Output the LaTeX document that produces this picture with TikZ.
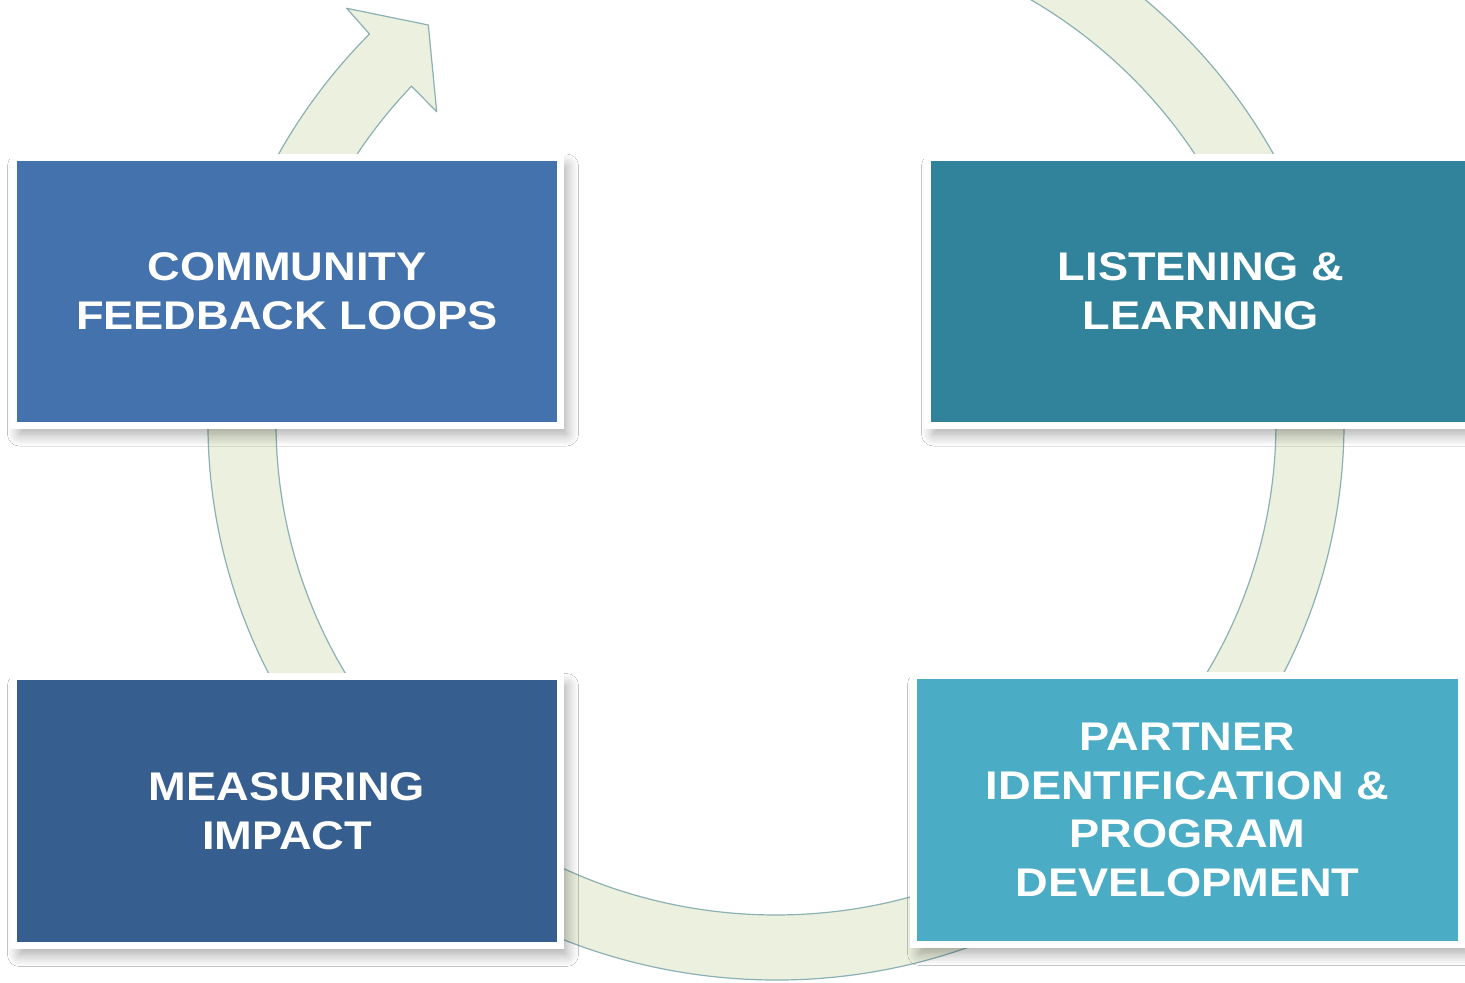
\documentclass[tikz,border=0pt]{standalone}
\usepackage{fontspec}
\setmainfont{Liberation Sans}[FakeStretch=1.13]
\usetikzlibrary{shadows.blur}
\definecolor{boxTL}{HTML}{4472AC}
\definecolor{boxTR}{HTML}{31839B}
\definecolor{boxBL}{HTML}{365F90}
\definecolor{boxBR}{HTML}{4BACC6}
\definecolor{ringfill}{HTML}{EBF1DE}
\definecolor{ringline}{HTML}{8CB0B4}
\tikzset{
  stagebox/.style={draw=white, line width=3.5pt, inner sep=0pt, outer sep=0pt,
    minimum width=273.5pt, minimum height=134.5pt,
    text=white, align=center,
    font=\bfseries\fontsize{20pt}{24.25pt}\selectfont,
    blur shadow={shadow xshift=3pt, shadow yshift=-4.5pt, shadow blur radius=6pt, shadow blur steps=12, shadow opacity=35}},
  ring/.style={fill=ringfill, draw=ringline, line width=0.6pt, line join=round}
}
\begin{document}
\begin{tikzpicture}[x=0.5pt, y=-0.5pt]
\path[use as bounding box, clip] (0,0) rectangle (1465,982);
\fill[white] (0,0) rectangle (1465,982);
% circular arrow (ellipse centre 776,423)
\draw[ring] (825.5,-131.9)
  arc[start angle=-85, end angle=224.3, x radius=568, y radius=557]
  -- (346.7,8.3) -- (428.3,25) -- (436.7,111.7) -- (411.5,86.2)
  arc[start angle=223.2, end angle=-85, x radius=500, y radius=492]
  -- cycle;
% boxes
\node[stagebox, fill=boxTL, minimum height=134pt] (community) at (287,291) {COMMUNITY\\FEEDBACK LOOPS};
\node[stagebox, fill=boxTR, minimum height=134pt] (listening) at (1201,291) {LISTENING \&\\LEARNING};
\node[stagebox, fill=boxBL] (measuring) at (287,811) {MEASURING\\IMPACT};
\node[stagebox, fill=boxBR, minimum width=274pt] (partner) at (1187.5,810) {PARTNER\\IDENTIFICATION \&\\PROGRAM\\DEVELOPMENT};
\end{tikzpicture}
\end{document}
